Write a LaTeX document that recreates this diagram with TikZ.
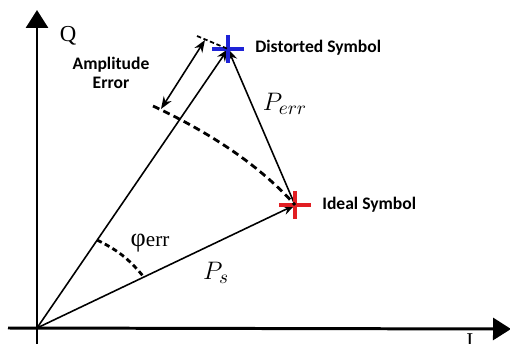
\documentclass[tikz,border=0pt]{standalone}
\usepackage{fontspec}
\newfontfamily\tagfont{Carlito}
\newfontfamily\timesfont{Liberation Serif}
\usetikzlibrary{arrows.meta}

\definecolor{symblue}{RGB}{30,35,215}
\definecolor{symred}{RGB}{225,30,35}

\tikzset{
  axis/.style={line width=1.7pt, -{Triangle[length=3.6mm,width=4.4mm]}},
  vec/.style={line width=0.9pt},
  dasharc/.style={line width=1.6pt, dash pattern=on 4pt off 2.5pt},
  tag/.style={font=\tagfont\bfseries\fontsize{10}{11}\selectfont, inner sep=0pt},
  biglab/.style={font=\fontsize{15}{18}\selectfont, inner sep=0pt}
}

\begin{document}
\begin{tikzpicture}[x=0.02cm,y=-0.02cm,>=Stealth]
    \useasboundingbox (0,0) rectangle (510,344);

    % axes cross at the origin, I to the right, Q up
    \coordinate (O) at (37,328);
    \coordinate (xleft) at (8,328);
    \coordinate (xright) at (511,329);
    \coordinate (ybot) at (37,346);
    \coordinate (ytop) at (37,10);
    \draw[axis] (xleft) -- (xright);
    \draw[axis] (ybot) -- (ytop);
    \node[font=\timesfont\fontsize{13}{15}\selectfont, inner sep=0pt] (qlab) at (68,36) {Q};
    \node[font=\timesfont\fontsize{12}{14}\selectfont, inner sep=0pt, anchor=north] (ilab) at (470,333) {I};

    % the two symbols and the vectors to them
    \coordinate (dist) at (228,49);
    \coordinate (ideal) at (295,205);
    \draw[vec, ->] (O) -- (dist);
    \draw[vec, ->] (O) -- (ideal);
    \draw[vec, ->] (ideal) -- (dist);
    \foreach \pt/\col in {dist/symblue, ideal/symred}
      \draw[line width=1.8pt, \col] (\pt) ++(-16,0) -- ++(32,0) (\pt) ++(0,-14) -- ++(0,28);

    % amplitude error between the two radii
    \coordinate (amptop) at (205,40);
    \coordinate (ampbot) at (161,109);
    \coordinate (tickend) at (197,36);
    \coordinate (arcstart) at (153,106);
    \draw[vec, <->] (ampbot) -- (amptop);
    \draw[line width=1pt, dash pattern=on 2.5pt off 1.5pt] (tickend) -- (dist);
    \draw[dasharc] (arcstart) .. controls (215,135) and (262,168) .. (ideal);

    % phase error
    \coordinate (angA) at (97,240);
    \coordinate (angB) at (143,276);
    \draw[dasharc, dash pattern=on 3pt off 2pt] (angA) to[bend left=12] (angB);

    % labels
    \node[tag, align=center] (amplab) at (111,73) {Amplitude\\Error};
    \node[tag, anchor=west] (distlab) at (255,48) {Distorted Symbol};
    \node[tag, anchor=west] (ideallab) at (322,205) {Ideal Symbol};
    \node[biglab] (perrlab) at (285,104) {$P_{err}$};
    \node[biglab] (pslab) at (216,273) {$P_s$};
    \node[font=\timesfont\fontsize{15}{17}\selectfont, inner sep=0pt] (philab) at (150,243) {φ\fontsize{12}{14}\selectfont err};
\end{tikzpicture}
\end{document}
